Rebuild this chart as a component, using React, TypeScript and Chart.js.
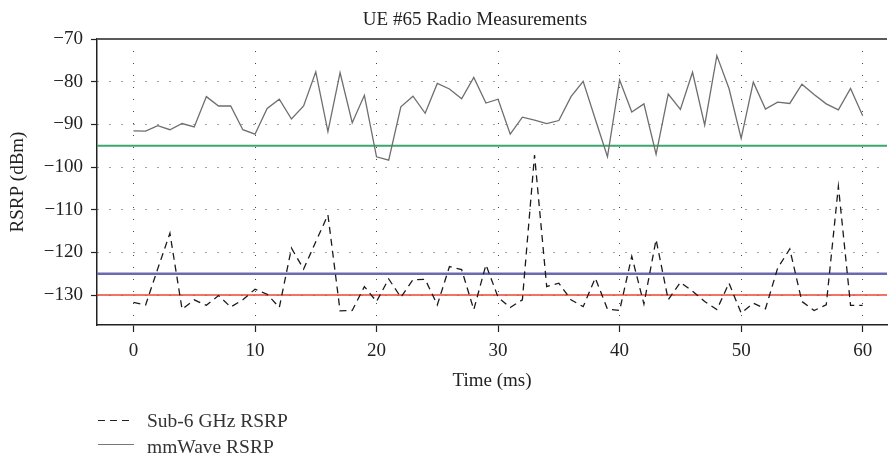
import React, { useEffect, useRef } from "react";
import { Chart, registerables } from "chart.js";

Chart.register(...registerables);

const TIME_MS = [
  0, 1, 2, 3, 4, 5, 6, 7, 8, 9, 10, 11, 12, 13, 14, 15, 16, 17, 18, 19, 20,
  21, 22, 23, 24, 25, 26, 27, 28, 29, 30, 31, 32, 33, 34, 35, 36, 37, 38, 39, 40,
  41, 42, 43, 44, 45, 46, 47, 48, 49, 50, 51, 52, 53, 54, 55, 56, 57, 58, 59, 60,
];

const SUB6_RSRP = [
  -131.7, -132.3, -123.8, -115.5, -133.3, -131.1, -132.4, -130.1, -132.8, -131.1,
  -128.6, -129.8, -132.9, -119.0, -123.9, -117.5, -111.2, -133.7, -133.6, -128.0,
  -131.5, -126.2, -130.5, -126.4, -126.3, -132.3, -123.3, -124.0, -133.4, -122.9,
  -130.5, -132.9, -131.1, -97.2, -128.0, -127.2, -131.1, -132.7, -126.0, -133.3,
  -133.6, -120.9, -132.1, -117.0, -131.1, -127.0, -129.1, -131.5, -133.4, -127.2,
  -134.2, -131.9, -133.2, -123.7, -119.2, -131.5, -133.6, -132.3, -104.5, -132.4,
  -132.4,
];

const MMWAVE_RSRP = [
  -91.5, -91.6, -90.3, -91.25, -89.8, -90.6, -83.5, -85.7, -85.7, -91.25,
  -92.3, -86.25, -84.1, -88.75, -85.7, -77.7, -91.7, -77.9, -89.6, -83.2,
  -97.6, -98.4, -85.9, -83.4, -87.4, -80.4, -81.7, -84.0, -79.0, -85.0,
  -84.1, -92.3, -88.3, -89.0, -89.8, -89.1, -83.5, -79.9, -88.8, -97.6,
  -79.6, -87.1, -85.2, -97.0, -82.9, -86.5, -77.8, -90.2, -73.9, -81.6,
  -93.3, -80.1, -86.4, -84.8, -85.1, -80.6, -83.0, -85.2, -86.6, -81.6,
  -88.0,
];

const THRESHOLDS = [-95, -125, -130];
const THRESHOLD_COLORS = ["#3aa86c", "#6a69b2", "#ee4530"];
const THRESHOLD_WIDTHS = [2, 2.5, 1.5];

const X_TICKS = [0, 10, 20, 30, 40, 50, 60];
const Y_TICKS = [-130, -120, -110, -100, -90, -80, -70];
const X_MIN = -3;
const X_MAX = 62;
const Y_MIN = -137;
const Y_MAX = -70;

const TITLE = "UE #65 Radio Measurements";
const X_TITLE = "Time (ms)";
const Y_TITLE = "RSRP (dBm)";
const SERIES_LABELS = ["Sub-6 GHz RSRP", "mmWave RSRP"];

const FONT_FAMILY = "'Liberation Serif', 'Times New Roman', serif";
const TEXT_COLOR = "#222";

const fmt = (v: number) => (v < 0 ? "\u2212" + Math.abs(v) : String(v));

export default function App() {
  const canvasRef = useRef<HTMLCanvasElement | null>(null);

  useEffect(() => {
    const canvas = canvasRef.current;
    if (!canvas) return;

    const overlay = {
      id: "overlay",
      afterDraw(chart: any) {
        const ctx = chart.ctx;
        const area = chart.chartArea;
        ctx.save();
        // top frame line
        ctx.strokeStyle = "#5a5a5a";
        ctx.lineWidth = 2;
        ctx.beginPath();
        ctx.moveTo(area.left, area.top);
        ctx.lineTo(area.right, area.top);
        ctx.stroke();
        // title
        ctx.fillStyle = TEXT_COLOR;
        ctx.font = `19px ${FONT_FAMILY}`;
        ctx.textAlign = "center";
        ctx.textBaseline = "alphabetic";
        ctx.fillText(TITLE, 475, 25);
        // legend
        ctx.textAlign = "left";
        ctx.fillStyle = "#333";
        ctx.font = `19.5px ${FONT_FAMILY}`;
        ctx.lineWidth = 1.2;
        ctx.strokeStyle = "#222";
        ctx.setLineDash([7, 5]);
        ctx.beginPath();
        ctx.moveTo(98, 420.5);
        ctx.lineTo(134, 420.5);
        ctx.stroke();
        ctx.fillText(SERIES_LABELS[0], 147, 427);
        ctx.setLineDash([]);
        ctx.strokeStyle = "#777";
        ctx.beginPath();
        ctx.moveTo(98, 444.5);
        ctx.lineTo(134, 444.5);
        ctx.stroke();
        ctx.fillText(SERIES_LABELS[1], 147, 453);
        ctx.restore();
      },
    };

    const toPoints = (ys: number[]) => TIME_MS.map((t, i) => ({ x: t, y: ys[i] }));

    const thresholdSets = THRESHOLDS.map((v, i) => ({
      label: "threshold " + v,
      data: [
        { x: X_MIN, y: v },
        { x: X_MAX, y: v },
      ],
      borderColor: THRESHOLD_COLORS[i],
      borderWidth: THRESHOLD_WIDTHS[i],
      pointRadius: 0,
      fill: false,
    }));

    const chart = new Chart(canvas, {
      type: "line",
      data: {
        datasets: [
          {
            label: SERIES_LABELS[0],
            data: toPoints(SUB6_RSRP),
            borderColor: "#1a1a1a",
            borderWidth: 1.3,
            borderDash: [7, 5],
            pointRadius: 0,
            tension: 0,
            fill: false,
          },
          {
            label: SERIES_LABELS[1],
            data: toPoints(MMWAVE_RSRP),
            borderColor: "#6e6e6e",
            borderWidth: 1.3,
            pointRadius: 0,
            tension: 0,
            fill: false,
          },
          ...thresholdSets,
        ],
      },
      options: {
        responsive: false,
        animation: false,
        layout: { padding: { left: 0, right: 2, top: 39, bottom: 66 } },
        plugins: {
          legend: { display: false },
          title: { display: false },
          tooltip: { enabled: false },
        },
        scales: {
          x: {
            type: "linear",
            min: X_MIN,
            max: X_MAX,
            afterBuildTicks: (scale: any) => {
              scale.ticks = X_TICKS.map((v) => ({ value: v }));
            },
            afterFit: (scale: any) => {
              scale.height = 67;
            },
            ticks: {
              callback: (v: any) => fmt(Number(v)),
              color: TEXT_COLOR,
              font: { family: FONT_FAMILY, size: 19 },
              padding: 8,
              maxRotation: 0,
            },
            grid: {
              color: "#444",
              lineWidth: 1,
              tickLength: 7,
              tickColor: "#222",
              tickWidth: 1.2,
            },
            border: { display: true, color: "#222", width: 1.5, dash: [1, 11] },
            title: {
              display: true,
              text: X_TITLE,
              color: TEXT_COLOR,
              font: { family: FONT_FAMILY, size: 19 },
              padding: { top: 2, bottom: 0 },
            },
          },
          y: {
            type: "linear",
            min: Y_MIN,
            max: Y_MAX,
            afterBuildTicks: (scale: any) => {
              scale.ticks = Y_TICKS.map((v) => ({ value: v }));
            },
            afterFit: (scale: any) => {
              scale.width = 97;
            },
            ticks: {
              callback: (v: any) => fmt(Number(v)),
              color: TEXT_COLOR,
              font: { family: FONT_FAMILY, size: 19 },
              padding: 8,
            },
            grid: {
              color: "#444",
              lineWidth: 1,
              tickLength: 6,
              tickColor: "#222",
              tickWidth: 1.2,
            },
            border: { display: true, color: "#222", width: 1.5, dash: [1, 11] },
            title: {
              display: true,
              text: Y_TITLE,
              color: TEXT_COLOR,
              font: { family: FONT_FAMILY, size: 19 },
              padding: { top: 7, bottom: 0 },
            },
          },
        },
      },
      plugins: [overlay],
    } as any);

    return () => chart.destroy();
  }, []);

  return (
    <div style={{ position: "fixed", left: 0, top: 0, width: 889, height: 458, background: "#fff" }}>
      <canvas ref={canvasRef} width={889} height={458} />
    </div>
  );
}
